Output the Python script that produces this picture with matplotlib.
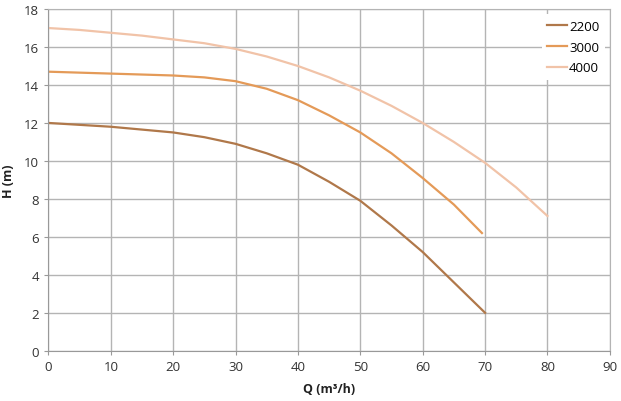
import matplotlib
import matplotlib.pyplot as plt

matplotlib.use('Agg')

# flow (m3/h) and head (m)
q_2200 = [0, 5, 10, 15, 20, 25, 30, 35, 40, 45, 50, 55, 60, 65, 70]
h_2200 = [12.0, 11.9, 11.8, 11.65, 11.5, 11.25, 10.9, 10.4, 9.8, 8.9, 7.9, 6.6, 5.2, 3.6, 2.0]

q_3000 = [0, 5, 10, 15, 20, 25, 30, 35, 40, 45, 50, 55, 60, 65, 69.5]
h_3000 = [14.7, 14.65, 14.6, 14.55, 14.5, 14.4, 14.2, 13.8, 13.2, 12.4, 11.5, 10.4, 9.1, 7.7, 6.2]

q_4000 = [0, 5, 10, 15, 20, 25, 30, 35, 40, 45, 50, 55, 60, 65, 70, 75, 80]
h_4000 = [17.0, 16.9, 16.75, 16.6, 16.4, 16.2, 15.9, 15.5, 15.0, 14.4, 13.7, 12.9, 12.0, 11.0, 9.9, 8.6, 7.1]

x_ticks = list(range(0, 91, 10))
y_ticks = list(range(0, 19, 2))

plt.rcParams['font.family'] = ['Open Sans', 'DejaVu Sans']

fig, ax = plt.subplots(figsize=(6.21, 4.02), dpi=100)
fig.subplots_adjust(left=0.078, right=0.982, top=0.975, bottom=0.125)

ax.plot(q_2200, h_2200, color='#b0784a', lw=1.6, label='2200')
ax.plot(q_3000, h_3000, color='#e49a58', lw=1.6, label='3000')
ax.plot(q_4000, h_4000, color='#f1c3a8', lw=1.6, label='4000')

ax.set_xlim(0, 90)
ax.set_ylim(0, 18)
ax.set_xticks(x_ticks)
ax.set_yticks(y_ticks)
ax.grid(True, color='#b4b4b4', lw=1)
ax.set_axisbelow(True)
for side in ['top', 'right']:
    ax.spines[side].set_color('#b4b4b4')
for side in ['left', 'bottom']:
    ax.spines[side].set_color('#999999')
ax.tick_params(length=3, color='#999999', labelsize=9.5, labelcolor='#333333', pad=4)

ax.set_xlabel('Q (m³/h)', fontsize=9, fontweight='bold', color='#222222', labelpad=6)
ax.set_ylabel('H (m)', fontsize=9, fontweight='bold', color='#222222', labelpad=6)

leg = ax.legend(loc='upper right', frameon=True, fontsize=9.5, handlelength=1.5,
                handletextpad=0.15, borderaxespad=0.4, labelspacing=0.6)
leg.get_frame().set_edgecolor('none')
leg.get_frame().set_facecolor('white')
leg.get_frame().set_alpha(1)

fig.savefig('out.png', dpi=100)
